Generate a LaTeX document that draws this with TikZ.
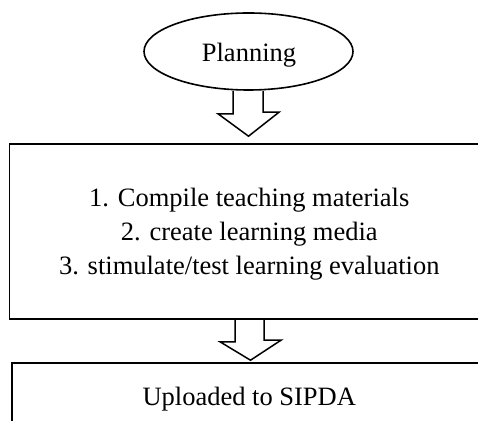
\documentclass[tikz,border=0pt]{standalone}
\usepackage{fontspec}
\setmainfont{Liberation Serif}
\usetikzlibrary{shapes.geometric,calc}
\tikzset{
  x=1pt, y=1pt,
  every node/.style={text=black},
  bodytext/.style={font=\fontsize{26.5}{34}\selectfont, align=center, inner sep=0pt},
  outline/.style={draw=black, line width=1.6pt},
  flowbox/.style={outline, rectangle, inner sep=0pt},
  blockarrow/.style={draw=black, line width=1.5pt, line join=miter},
}
\begin{document}
\begin{tikzpicture}
  \useasboundingbox (0,0) rectangle (478,420);
  \clip (0,0) rectangle (478,420);
  \fill[white] (0,0) rectangle (478,420);

  % start terminal
  \node[outline, ellipse, inner sep=0pt, minimum width=209pt, minimum height=77pt]
    (plan) at (248.5,368.5) {};
  \node[bodytext] (plantext) at (249,365) {Planning};

  % planning steps
  \node[flowbox, minimum width=479.5pt, minimum height=175pt]
    (steps) at (249.25,188.5) {};
  \node[bodytext] (stepstext) at (249.25,185.5)
    {1. Compile teaching materials\\2. create learning media\\3. stimulate/test learning evaluation};

  % final step
  \node[flowbox, minimum width=475pt, minimum height=86pt]
    (upload) at (249.25,14) {};
  \node[bodytext] (uploadtext) at (249.25,21) {Uploaded to SIPDA};

  % tips of the hollow arrows
  \coordinate (tipA) at ($(steps.north)+(-0.75,7)$);
  \coordinate (tipB) at ($(upload.north)+(1.25,2)$);

  % hollow block arrows between the stages
  \draw[blockarrow]
    ($(plan.south)+(-15.5,0)$) -- ++(0,-23) -- ++(-15,0) -- (tipA)
    -- ($(tipA)+(30.5,24)$) -- ++(-16,0) -- ($(plan.south)+(14.5,0)$);
  \draw[blockarrow]
    ($(steps.south)+(-14.25,0)$) -- ++(0,-22) -- ++(-15,0) -- (tipB)
    -- ($(tipB)+(30.5,20)$) -- ++(-17,0) -- ($(steps.south)+(14.75,0)$);
\end{tikzpicture}
\end{document}
